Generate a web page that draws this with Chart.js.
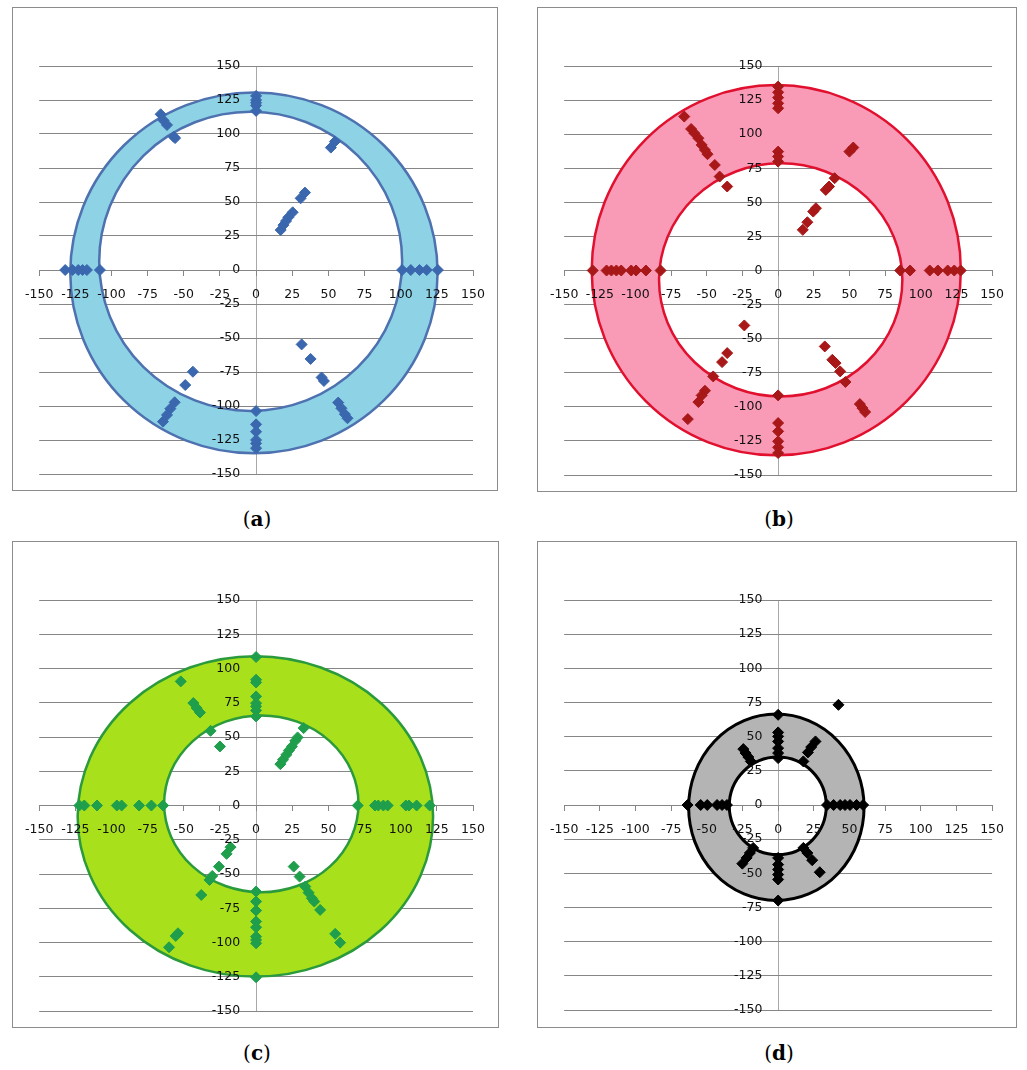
<!DOCTYPE html>
<html>
<head>
<meta charset="utf-8">
<script src="https://cdn.jsdelivr.net/npm/chart.js@4.4.0/dist/chart.umd.min.js"></script>
<style>
  body { margin: 0; background: #fff; width: 1027px; height: 1070px; position: relative; overflow: hidden; }
  .panel { position: absolute; border: 1px solid #8c8c8c; box-sizing: border-box; background: #fff; }
  .panel canvas { display: block; }
  .cap { position: absolute; width: 120px; line-height: 24px; text-align: center; font-size: 20px; font-family: "DejaVu Serif", "Liberation Serif", serif; color: #000; }
</style>
</head>
<body>
<div class="panel" style="left:12px;top:7px;width:486px;height:484px"><canvas id="chartA" width="484" height="482"></canvas></div>
<div class="panel" style="left:537px;top:7px;width:480px;height:485px"><canvas id="chartB" width="478" height="483"></canvas></div>
<div class="panel" style="left:12px;top:541px;width:487px;height:487px"><canvas id="chartC" width="485" height="485"></canvas></div>
<div class="panel" style="left:537px;top:541px;width:480px;height:487px"><canvas id="chartD" width="478" height="485"></canvas></div>
<div class="cap" style="left:197px;top:507px">(<b>a</b>)</div>
<div class="cap" style="left:719px;top:507px">(<b>b</b>)</div>
<div class="cap" style="left:197px;top:1041px">(<b>c</b>)</div>
<div class="cap" style="left:719px;top:1041px">(<b>d</b>)</div>
<script>
// axis ticks shared by all four panels
const axisMin = -150;
const axisMax = 150;
const axisStep = 25;
// the value labels of the vertical axis sit a little left of x = 0
const yLabelAt = -11;

// (a) measured points
const aX = [0, 0, 0, 0, 0, -66, -64, -61.6, -57, -56, 51.7, 54.5, 17, 18.9, 20.7, 22.3, 25.3, 30.8, 33.8,
  -132, -127, -123, -120, -117, -108, 101, 107, 113, 118, 125.7, -43.7, -49, -56.3, -59.3, -61.6, -64.4,
  31.5, 37.7, 45.3, 46.9, 56.8, 59, 61.4, 63.2, 0, 0, 0, 0, 0, 0];
const aY = [128, 125, 123, 121, 117, 114.5, 110, 106.6, 98, 97, 90, 94.4, 29.4, 33, 36, 38.7, 42.4, 52.7, 56.9,
  0, 0, 0, 0, 0, 0, 0, 0, 0, 0, 0, -74.8, -84.6, -97.3, -102, -106.6, -111.5,
  -54.7, -65.4, -79, -81.6, -97.5, -101.7, -106, -109, -103.7, -113.5, -118.9, -125, -127.5, -131];
// ring ellipses: [centre x, centre y, radius x, radius y]
const aOuter = [-1.5, -2.1, 127, 132.7];
const aInner = [-3.75, 6.35, 104.75, 110];

// (b)
const bX = [0, 0, 0, 0, 0, 0, 0, 0, -65.8, -61, -58.7, -55.9, -53.6, -51.3, -49.5, -44.4, -41, -35.7, 50, 52.7,
  17.3, 20.5, 24.6, 26.5, 33.4, 35.7, 39.6, -130, -120.3, -116.9, -113.4, -110, -103, -99.6, -92.7, -82.4,
  85.6, 92.5, 106.3, 112, 118.9, 123.5, 128, -23.7, -35.7, -39.3, -45.5, -51.3, -53.6, -55.9, -63.3,
  32.7, 38, 40.3, 43.5, 47.2, 57.3, 59.1, 61, 0, 0, 0, 0, 0, 0];
const bY = [134.9, 130.7, 126.8, 122.6, 119, 87.2, 83.6, 79.9, 112.9, 103.8, 100.7, 97, 92.1, 88.4, 85.3, 77.4, 68.9, 61.6, 87.2, 90.2,
  29.8, 35.4, 43.2, 45.7, 59.1, 61.6, 67.7, 0, 0, 0, 0, 0, 0, 0, 0, 0,
  0, 0, 0, 0, 0, 0, 0, -40.3, -60.6, -67.2, -77.7, -88.2, -91.6, -96.5, -109,
  -55.7, -65.5, -67.9, -74, -81.8, -98, -100.9, -103.8, -91.6, -111.9, -118, -125.3, -129.7, -133.9];
const bOuter = [-1.3, 0.2, 129.4, 135.8];
const bInner = [1.8, -6.85, 85.3, 85.5];

// (c)
const cX = [0, 0, 0, 0, 0, 0, 0, 0, -52.1, -43.4, -41.1, -38.8, -31.5, -25, 16.8, 18.6, 20.9, 22.7, 24.8, 27.1, 28.7, 32.9,
  -122.2, -118.8, -110, -96.3, -93, -80.9, -72.4, -64.3, 70.3, 82.2, 84.5, 88, 91, 103.6, 105.7, 111, 120.1,
  -17.7, -20.4, -25.7, -30.3, -32.2, -37.9, -54, -55.6, -60.2, 26, 30.1, 34, 36.3, 38.6, 40.2, 44.3, 54.7, 58.1,
  0, 0, 0, 0, 0, 0, 0, 0, 0];
const cY = [108.4, 91.8, 89.8, 79.6, 74.7, 72.3, 69.4, 65, 90.6, 74.8, 71.1, 67.9, 54.5, 43.1, 30.2, 33.4, 37, 40.2, 43.1, 47.2, 49.7, 56.5,
  0, 0, 0, 0, 0, 0, 0, 0, 0, 0, 0, 0, 0, 0, 0, 0, 0,
  -30.4, -35.3, -44.6, -51.4, -54.3, -65.3, -93.3, -95.2, -103.5, -44.6, -51.9, -59.2, -63.6, -67.7, -70.1, -76.2, -93.7, -100.1,
  -62.8, -70.1, -76.7, -84.7, -88.9, -95.7, -98.1, -100.6, -125.4];
const cOuter = [-0.5, -8, 122.9, 116.9];
const cInner = [3.6, 1.2, 67.2, 64.5];

// (d)
const dX = [42.3, 0, 0, 0, 0, 0, 0, 0, -24.4, -22.8, -20.9, -19.1, 26.2, 23.2, 20.9, 17.7,
  -63.5, -54.3, -49.7, -42.8, -39.3, -35.9, 34.3, 38.9, 43.5, 46.9, 50.4, 55, 59.6,
  -17.5, -19.8, -22.1, -25.1, 17.7, 20.5, 23.9, 29.2, 0, 0, 0, 0, 0, 0];
const dY = [73.3, 66, 53.1, 50.2, 46.5, 41.6, 38, 34.3, 40.9, 38, 35.1, 31.9, 46.5, 42.4, 38.5, 31.9,
  0, 0, 0, 0, 0, 0, 0, 0, 0, 0, 0, 0, 0,
  -31.4, -35.1, -38.7, -42.9, -31.4, -35.1, -40.4, -49.2, -38.7, -43.6, -47.2, -50.9, -54.5, -69.9];
const dOuter = [-1.25, -1.7, 61.5, 68.2];
const dInner = [-0.25, -0.6, 34, 35.7];

// filled ring drawn under the markers, sized through the chart scales
const ringPlugin = {
  id: "ring",
  beforeDatasetsDraw(chart, args, opts) {
    const { ctx } = chart;
    const sx = chart.scales.x, sy = chart.scales.y;
    const toPx = (e) => {
      const cx = sx.getPixelForValue(e[0]);
      const cy = sy.getPixelForValue(e[1]);
      return [cx, cy, Math.abs(sx.getPixelForValue(e[0] + e[2]) - cx), Math.abs(sy.getPixelForValue(e[1] + e[3]) - cy)];
    };
    const o = toPx(opts.outer), n = toPx(opts.inner);
    ctx.save();
    ctx.beginPath();
    ctx.ellipse(o[0], o[1], o[2], o[3], 0, 0, Math.PI * 2);
    ctx.moveTo(n[0] + n[2], n[1]);
    ctx.ellipse(n[0], n[1], n[2], n[3], 0, 0, Math.PI * 2);
    ctx.fillStyle = opts.fill;
    ctx.fill("evenodd");
    ctx.lineWidth = opts.width;
    ctx.strokeStyle = opts.stroke;
    ctx.stroke();
    ctx.restore();
  }
};

const tickFont = { family: "DejaVu Sans", size: 12.5 };

function makeChart(id, xs, ys, outer, inner, pad, look) {
  const points = xs.map((x, i) => ({ x: x, y: ys[i] }));
  return new Chart(document.getElementById(id), {
    type: "scatter",
    data: {
      datasets: [{
        data: points,
        pointStyle: "rectRot",
        pointRadius: 5.5,
        pointHoverRadius: 5.5,
        backgroundColor: look.mark,
        borderColor: look.mark,
        borderWidth: 1
      }]
    },
    options: {
      responsive: false,
      animation: false,
      events: [],
      layout: { padding: pad },
      plugins: {
        legend: { display: false },
        tooltip: { enabled: false },
        ring: { outer: outer, inner: inner, fill: look.fill, stroke: look.stroke, width: look.width }
      },
      scales: {
        x: {
          type: "linear",
          min: axisMin,
          max: axisMax,
          position: { y: 0 },
          ticks: { stepSize: axisStep, color: "#111", font: tickFont, padding: 12, maxRotation: 0, z: 1 },
          // only the x = 0 line is drawn across the plot: it is the vertical axis
          grid: {
            color: (c) => (c.tick && c.tick.value === 0 ? "#a8a8a8" : "rgba(0,0,0,0)"),
            tickColor: "#868686",
            tickLength: 5
          },
          border: { color: "#868686" }
        },
        y: {
          type: "linear",
          min: axisMin,
          max: axisMax,
          position: { x: yLabelAt },
          ticks: { stepSize: axisStep, color: "#111", font: tickFont, z: 1 },
          grid: { drawTicks: false, color: "#868686" },
          border: { display: false }
        }
      }
    },
    plugins: [ringPlugin]
  });
}

makeChart("chartA", aX, aY, aOuter, aInner, { left: 25, right: 24, top: 58, bottom: 16 },
  { mark: "#3a67ae", fill: "#8dd2e5", stroke: "#4e71b0", width: 2.5 });
makeChart("chartB", bX, bY, bOuter, bInner, { left: 24, right: 17, top: 58, bottom: 16 },
  { mark: "#a81818", fill: "#f99ab6", stroke: "#e0102e", width: 2.5 });
makeChart("chartC", cX, cY, cOuter, cInner, { left: 24, right: 25, top: 58, bottom: 16 },
  { mark: "#1f9e4c", fill: "#a8e01c", stroke: "#2a9a3c", width: 2.5 });
makeChart("chartD", dX, dY, dOuter, dInner, { left: 25, right: 18, top: 58, bottom: 17 },
  { mark: "#000000", fill: "#b4b4b4", stroke: "#000000", width: 3 });
</script>
</body>
</html>
